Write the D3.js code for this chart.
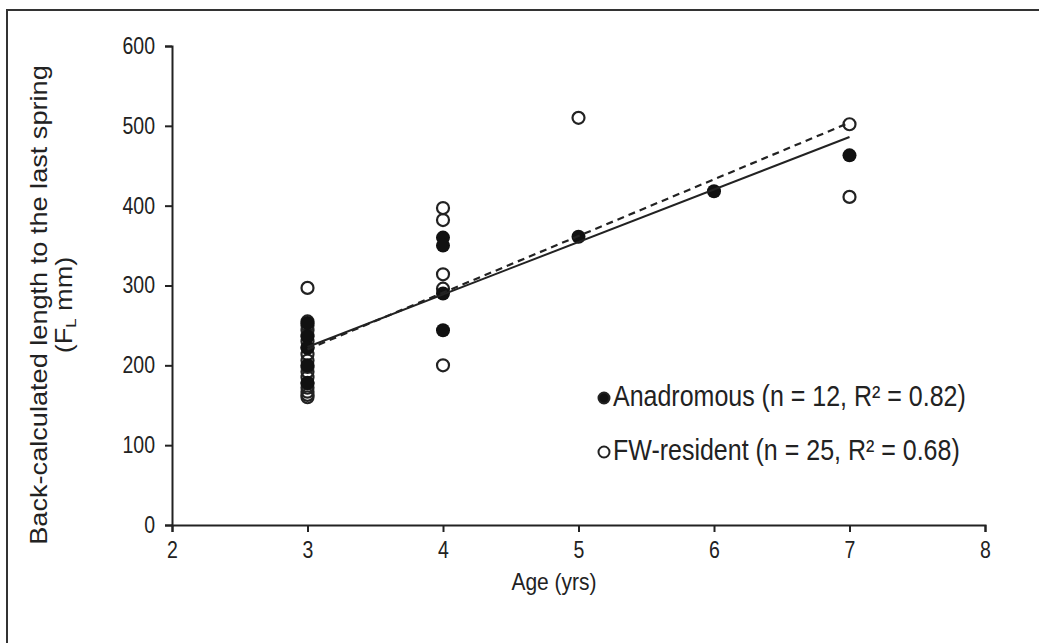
<!DOCTYPE html>
<html>
<head>
<meta charset="utf-8">
<script src="https://cdn.jsdelivr.net/npm/d3@7"></script>
<style>
  body { margin: 0; background: #fff; }
  #chart { width: 1039px; height: 643px; }
  text { font-family: "Liberation Sans", Arial, sans-serif; fill: #222; }
</style>
</head>
<body>
<div id="chart"></div>
<script>
// Datos
const anaAges   = [3, 3, 3, 3, 3, 4, 4, 4, 4, 5, 6, 7];
const anaValues = [253, 236, 222, 200, 178, 360, 350, 290, 244, 361, 418, 463];

const fwAges   = [3, 3, 3, 3, 3, 3, 3, 3, 3, 3, 3, 3, 3, 3, 3, 3, 3, 4, 4, 4, 4, 4, 5, 7, 7];
const fwValues = [297, 255, 250, 244, 238, 230, 222, 214, 206, 198, 192, 185, 178, 172, 167, 163, 160,
                  397, 382, 314, 296, 200, 510, 502, 411];

// Rectas de regresion (valor ajustado en edad 3 y 7)
const fitAges = [3, 7];
const anaFit  = [223, 486];
const fwFit   = [220, 504];

const xTicks = [2, 3, 4, 5, 6, 7, 8];
const yTicks = [0, 100, 200, 300, 400, 500, 600];

const legendLabels = ['Anadromous (n =  12, R\u00b2 = 0.82)', 'FW-resident (n = 25, R\u00b2 = 0.68)'];

const COLOR_INK = '#222';
const STRETCH = 1.18; // la imagen original esta estirada en vertical

let svg = d3.select('#chart')
    .append('svg')
        .attr('width', 1039)
        .attr('height', 643);

// marco
svg.append('rect')
    .attr('x', 7).attr('y', 10)
    .attr('width', 1060).attr('height', 660)
    .attr('fill', 'none')
    .attr('stroke', '#333')
    .attr('stroke-width', 2);

let x = d3.scaleLinear().domain([2, 8]).range([172, 985]);
let y = d3.scaleLinear().domain([0, 600]).range([525, 46]);

let xAxis = svg.append('g')
    .attr('transform', 'translate(0,' + y(0) + ')')
    .call(d3.axisBottom(x).tickValues(xTicks).tickSize(7).tickSizeOuter(7).tickFormat(d3.format('d')));

let yAxis = svg.append('g')
    .attr('transform', 'translate(' + x(2) + ',0)')
    .call(d3.axisLeft(y).tickValues(yTicks).tickSize(7).tickSizeOuter(7).tickPadding(10).tickFormat(d3.format('d')));

[xAxis, yAxis].forEach(function(a) {
    a.select('.domain').attr('stroke', COLOR_INK).attr('stroke-width', 2);
    a.selectAll('.tick line').attr('stroke', COLOR_INK).attr('stroke-width', 2);
    a.selectAll('.tick text').attr('font-size', 19.5).attr('fill', COLOR_INK)
        .style('font-family', '"Liberation Sans", Arial, sans-serif');
});

xAxis.selectAll('.tick text')
    .attr('y', 0)
    .attr('dy', '0.71em')
    .attr('transform', 'translate(0,17) scale(1,' + STRETCH + ')');
yAxis.selectAll('.tick text')
    .attr('transform', 'scale(1,' + STRETCH + ')');

// titulos
svg.append('text')
    .attr('transform', 'translate(554,590) scale(1,' + STRETCH + ')')
    .attr('text-anchor', 'middle')
    .attr('font-size', 21)
    .text('Age (yrs)');

let yTitle = svg.append('text')
    .attr('transform', 'translate(47,305) rotate(-90) scale(' + STRETCH + ',1)')
    .attr('text-anchor', 'middle')
    .attr('font-size', 23);
yTitle.append('tspan').attr('x', 0).attr('dy', 0).text('Back-calculated length to the last spring');
let l2 = yTitle.append('tspan').attr('x', 0).attr('dy', 25);
l2.append('tspan').text('(F');
l2.append('tspan').attr('font-size', 14).attr('dy', 4).text('L');
l2.append('tspan').attr('dy', -4).text(' mm)');

// puntos FW (abiertos, sin relleno)
svg.append('g')
    .selectAll('circle')
    .data(fwValues)
    .enter()
    .append('circle')
    .attr('cx', function(d, i) { return x(fwAges[i]); })
    .attr('cy', function(d) { return y(d); })
    .attr('r', 6)
    .attr('fill', 'none')
    .attr('stroke', COLOR_INK)
    .attr('stroke-width', 2.2);

// puntos anadromos (rellenos)
svg.append('g')
    .selectAll('circle')
    .data(anaValues)
    .enter()
    .append('circle')
    .attr('cx', function(d, i) { return x(anaAges[i]); })
    .attr('cy', function(d) { return y(d); })
    .attr('r', 7)
    .attr('fill', '#111');

// regresiones
let line = d3.line()
    .x(function(d, i) { return x(fitAges[i]); })
    .y(function(d) { return y(d); });

svg.append('path')
    .attr('d', line(anaFit))
    .attr('fill', 'none')
    .attr('stroke', COLOR_INK)
    .attr('stroke-width', 2);

svg.append('path')
    .attr('d', line(fwFit))
    .attr('fill', 'none')
    .attr('stroke', COLOR_INK)
    .attr('stroke-width', 2.2)
    .attr('stroke-dasharray', '7,5');

// leyenda
let legend = svg.append('g').attr('transform', 'translate(604,398)');
legendLabels.forEach(function(lbl, i) {
    let g = legend.append('g').attr('transform', 'translate(0,' + (i * 54) + ')');
    g.append('circle')
        .attr('r', 5.5)
        .attr('fill', i === 0 ? '#111' : 'none')
        .attr('stroke', COLOR_INK)
        .attr('stroke-width', 2);
    g.append('text')
        .attr('transform', 'translate(9,8) scale(1,' + STRETCH + ')')
        .attr('font-size', 25)
        .text(lbl);
});
</script>
</body>
</html>
